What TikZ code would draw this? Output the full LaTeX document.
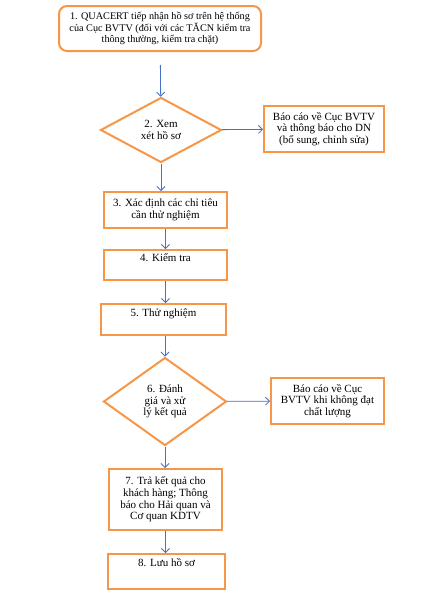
\documentclass[tikz,border=0pt]{standalone}
\usepackage{fontspec}
\setmainfont{Liberation Serif}
\usetikzlibrary{arrows.meta,shapes.geometric}
\definecolor{boxorange}{RGB}{247,150,70}
\definecolor{lineblue}{RGB}{68,114,196}
\tikzset{
	stepbox/.style={draw=boxorange, line width=2pt, align=center, inner sep=2pt, font=\fontsize{11}{11.7}\selectfont},
	choice/.style={stepbox, diamond, inner sep=0pt, aspect=1.6},
	flow/.style={draw=lineblue, line width=0.8pt, -{Straight Barb[length=4pt,width=8pt]}},
}

\begin{document}
\begin{tikzpicture}[x=1pt, y=-1pt]
			%%%%% START %%%%%
			
			\useasboundingbox (0, 0) rectangle (429, 597);
			
			\node[stepbox, rounded corners=8pt, minimum width=202pt, minimum height=45pt, font=\fontsize{10.2}{11.7}\selectfont] (b1) at (160, 28.5)
				{1. QUACERT tiếp nhận hồ sơ trên hệ thống\\của Cục BVTV (đối với các TĂCN kiểm tra\\thông thường, kiểm tra chặt)};
			
			\node[choice, minimum width=121pt, minimum height=65pt] (d2) at (161, 130) {2. Xem\\xét hồ sơ};
			\node[stepbox, minimum width=120pt, minimum height=46pt] (r2) at (324, 129)
				{Báo cáo về Cục BVTV\\và thông báo cho DN\\(bổ sung, chỉnh sửa)};
			
			\node[stepbox, minimum width=123pt, minimum height=36pt] (b3) at (165.5, 210) {3. Xác định các chỉ tiêu\\cần thử nghiệm};
			\node[stepbox, minimum width=123pt, minimum height=30pt, text depth=14pt] (b4) at (165.5, 265) {4. Kiểm tra};
			\node[stepbox, minimum width=125pt, minimum height=31pt, text depth=14pt] (b5) at (163.5, 319.5) {5. Thử nghiệm};
			
			\node[choice, minimum width=123pt, minimum height=88pt] (d6) at (165, 401.5) {6. Đánh\\giá và xử\\lý kết quả};
			\node[stepbox, minimum width=113pt, minimum height=46pt] (r6) at (327.5, 401)
				{Báo cáo về Cục\\BVTV khi không đạt\\chất lượng};
			
			\node[stepbox, minimum width=113pt, minimum height=61pt] (b7) at (165.5, 499.5)
				{7. Trả kết quả cho\\khách hàng; Thông\\báo cho Hải quan và\\Cơ quan KDTV};
			\node[stepbox, minimum width=117pt, minimum height=35pt, text depth=18pt] (b8) at (166.5, 571.5) {8. Lưu hồ sơ};
			
			\draw[flow, shorten <=13pt] (b1) -- (d2);
			\draw[flow] (d2) -- (r2);
			\draw[flow] (d2.south) -- (d2.south |- b3.north);
			\draw[flow] (b3) -- (b4);
			\draw[flow] (b4.south) -- (b4.south |- b5.north);
			\draw[flow] (b5.south -| d6.north) -- (d6.north);
			\draw[flow] (d6) -- (r6);
			\draw[flow] (d6.south) -- (d6.south |- b7.north);
			\draw[flow] (b7.south) -- (b7.south |- b8.north);
			
			%%%%% END %%%%%
		\end{tikzpicture}
\end{document}
